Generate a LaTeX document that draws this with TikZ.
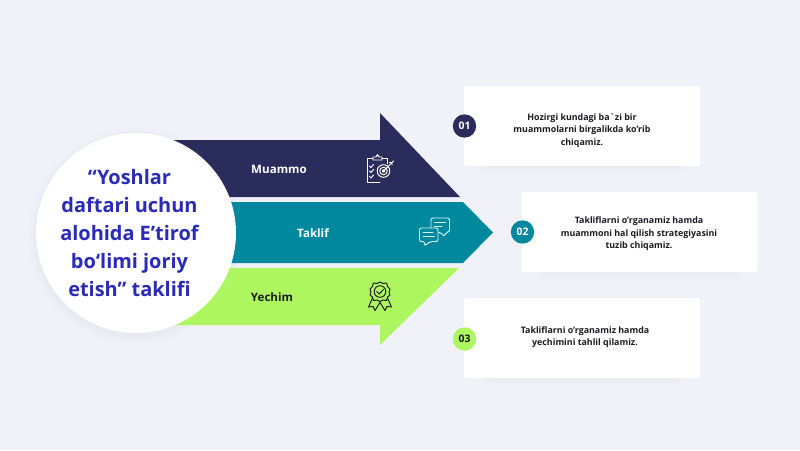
\documentclass[tikz,border=0pt]{standalone}
\usepackage{fontspec}
\newfontfamily\notofont{Open Sans}
\definecolor{pagebg}{HTML}{F1F2F9}
\definecolor{navy}{HTML}{2A2D5C}
\definecolor{teal}{HTML}{00899E}
\definecolor{lime}{HTML}{AEF65F}
\definecolor{titleblue}{HTML}{2A2CB8}
\definecolor{inkdark}{HTML}{1B1B24}
\definecolor{chatline}{HTML}{D8F3F8}
\def\px{0.75pt}

\begin{document}
\begin{tikzpicture}[x=\px,y=-\px]
        \tikzstyle{card}=[fill=white,rounded corners=2pt,minimum width=177pt,minimum height=60pt,inner sep=0pt]
        \tikzstyle{card text}=[align=center,inner sep=0pt,text=inkdark,font=\notofont\bfseries\fontsize{6.65}{9.4}\selectfont]
        \tikzstyle{badge}=[circle,minimum size=17.5pt,inner sep=0pt,font=\notofont\bfseries\fontsize{7.8}{9}\selectfont]
        \tikzstyle{band label}=[font=\notofont\bfseries\fontsize{8.7}{10}\selectfont]
        \tikzstyle{title disc}=[circle,fill=white,minimum size=150pt,inner sep=0pt]
        \tikzstyle{title text}=[align=center,inner sep=0pt,text=titleblue,font=\notofont\bfseries\fontsize{14.95}{21}\selectfont]
        \tikzstyle{icon}=[line width=0.72pt,line join=round,line cap=round]

        \useasboundingbox (0,0) rectangle (800,450);
        \fill[pagebg] (0,0) rectangle (800,450);

        % Soft shadows under the cards and the disc
        \foreach \x/\y in {464/86,522/192,464/298}
            \foreach \s in {1,...,7}
                \fill[black,opacity=0.005,rounded corners=6pt]
                    (\x+22-\s,\y+30) rectangle (\x+214+\s,\y+81+\s);
        \foreach \s in {1,...,8}
            \fill[black,opacity=0.004] (136,236) circle ({100+\s});

        % The three arrow bands
        \fill[navy] (170,140) -- (380,140) -- (380,113) -- (460,197) -- (170,197) -- cycle;
        \fill[teal] (170,202) -- (463,202) -- (493,232.5) -- (463,263) -- (170,263) -- cycle;
        \fill[lime] (170,268) -- (459,268) -- (380,345) -- (380,325) -- (170,325) -- cycle;

        \node[band label,text=white] (muammo) at (279,169) {Muammo};
        \node[band label,text=white] (taklif) at (313,233) {Taklif};
        \node[band label,text=inkdark] (yechim) at (272,297) {Yechim};

        % Clipboard icon
        \begin{scope}[icon,draw=white]
            \draw (373,158) -- (367,158) -- (367,182) -- (380,182);
            \draw (382,158) -- (387,158) -- (387,164);
            \draw (373,160) -- (373,157) -- (376,157) -- (377.5,154.5) -- (379,157) -- (382,157) -- (382,160) -- cycle;
            \foreach \y in {166,171,176.5} {
                \draw (369.5,\y) -- (371,\y+1.5) -- (373.5,\y-1.5);
            }
            \draw (383.5,171) circle (6.3);
            \draw (383.5,171) circle (3.8);
            \draw (383.5,171) circle (1.4);
            \draw (383.5,171) -- (392,162.5);
            \draw (389.5,162.5) -- (392,162.5) -- (392,165) (392,162.5) -- (393.5,161);
        \end{scope}

        % Chat icon
        \begin{scope}[icon,draw=chatline]
            \draw[rounded corners=1.5pt] (431,232) -- (431,218) -- (449.5,218) -- (449.5,232) -- (446,232) -- (444.5,236.5) -- (440,232) -- cycle;
            \draw (434.5,222.5) -- (446,222.5) (434.5,226.5) -- (442,226.5);
            \fill[teal,rounded corners=1.5pt] (419.5,228) -- (438,228) -- (438,241.5) -- (430,241.5) -- (424.5,246) -- (424.5,241.5) -- (419.5,241.5) -- cycle;
            \draw[rounded corners=1.5pt] (419.5,228) -- (438,228) -- (438,241.5) -- (430,241.5) -- (424.5,246) -- (424.5,241.5) -- (419.5,241.5) -- cycle;
            \draw (423,232.5) -- (433,232.5) (423,236.5) -- (434.5,236.5);
        \end{scope}

        % Rosette icon
        \begin{scope}[icon,draw=inkdark]
            \draw[fill=lime] (372.5,298) -- (368.5,307) -- (373,306.5) -- (375,310.5) -- (380,302.5) -- (385,310.5) -- (387,306.5) -- (391.5,307) -- (387.5,298);
            \fill[lime] (380,291.5) circle (9.5);
            \draw plot[smooth cycle,tension=0.4] coordinates {
                (380,282) (383,283.5) (386.5,283) (387.5,286.5) (390,289) (389,292) (390,295) (387.5,297) (386.5,300.5) (383,300) (380,301.5) (377,300) (373.5,300.5) (372.5,297) (370,295) (371,292) (370,289) (372.5,286.5) (373.5,283) (377,283.5)};
            \draw (380,291.5) circle (5.8);
            \draw (376.8,291.5) -- (379.2,294) -- (383.5,289.5);
        \end{scope}

        % Cards, each with its numbered badge
        \node[card] (C-1) at (582,126) {};
        \node[card] (C-2) at (639.5,232) {};
        \node[card] (C-3) at (582,338) {};

        \node[card text] (T-1) at (582,130.5) {Hozirgi kundagi ba`zi bir\\muammolarni birgalikda ko’rib\\chiqamiz.};
        \node[card text] (T-2) at (639,234) {Takliflarni o’rganamiz hamda\\muammoni hal qilish strategiyasini\\tuzib chiqamiz.};
        \node[card text] (T-3) at (585,337) {Takliflarni o’rganamiz hamda\\yechimini tahlil qilamiz.};

        \node[badge,fill=navy,text=white] (B-1) at (464.5,126) {01};
        \node[badge,fill=teal,text=white] (B-2) at (522.5,232) {02};
        \node[badge,fill=lime,text=inkdark] (B-3) at (464.5,339) {03};

        % Title disc on top of the bands
        \node[title disc] (disc) at (136,233) {};
        \node[title text] (title) at (129.5,233.5) {“Yoshlar\\daftari uchun\\alohida E’tirof\\bo‘limi joriy\\etish” taklifi};
    \end{tikzpicture}
\end{document}
